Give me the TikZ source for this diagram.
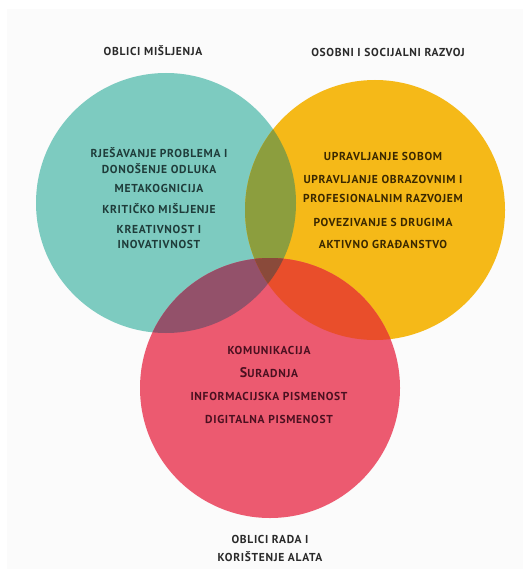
\documentclass[tikz,border=0pt]{standalone}
\usepackage{fontspec}
\setmainfont{PT Sans}[LetterSpace=6]
\definecolor{cteal}{HTML}{7DCBC0}
\definecolor{cyellow}{HTML}{F5B918}
\definecolor{cred}{HTML}{EC5A70}
\definecolor{cty}{HTML}{8C9E3E}
\definecolor{ctr}{HTML}{93516A}
\definecolor{cyr}{HTML}{E94E2B}
\definecolor{ctyr}{HTML}{8A4A3A}
\definecolor{bgc}{HTML}{FBFBFB}
\definecolor{ttl}{HTML}{2A2A2A}
\definecolor{tteal}{HTML}{1F3C3A}
\definecolor{tyel}{HTML}{3A2800}
\definecolor{tred}{HTML}{4A1020}
\tikzset{
  ring/.style={circle, minimum size=260pt, inner sep=0pt, draw=none},
  lbl/.style={anchor=base, inner sep=0pt, font=\bfseries\fontsize{11.5}{13}\selectfont},
  ttlbl/.style={lbl, text=ttl},
  tlbl/.style={lbl, text=tteal},
  ylbl/.style={lbl, text=tyel},
  rlbl/.style={lbl, text=tred}
}
\begin{document}
\begin{tikzpicture}[x=1pt,y=-1pt]
\useasboundingbox (0,0) rectangle (523,569);
\fill[white] (0,0) rectangle (523,569);
\fill[bgc] (7,9) rectangle (523,569);
% circles
\node[ring, fill=cteal] (teal) at (166,203) {};
\node[ring, fill=cyellow] (yellow) at (375,210) {};
\node[ring, fill=cred] (red) at (270,388) {};
% overlaps
\begin{scope}
  \clip (166,203) circle (130);
  \fill[cty] (375,210) circle (130);
  \fill[ctr] (270,388) circle (130);
\end{scope}
\begin{scope}
  \clip (375,210) circle (130);
  \fill[cyr] (270,388) circle (130);
\end{scope}
\begin{scope}
  \clip (166,203) circle (130);
  \clip (375,210) circle (130);
  \fill[ctyr] (270,388) circle (130);
\end{scope}
% titles
\node[ttlbl] (t1) at (153,56) {OBLICI MIŠLJENJA};
\node[ttlbl] (t2) at (388,57) {OSOBNI I SOCIJALNI RAZVOJ};
\node[ttlbl] (t3a) at (270,543) {OBLICI RADA I};
\node[ttlbl] (t3b) at (270,561) {KORIŠTENJE ALATA};
% teal
\node[tlbl] (a1) at (159,158) {RJEŠAVANJE PROBLEMA I};
\node[tlbl] (a2) at (159,174) {DONOŠENJE ODLUKA};
\node[tlbl] (a3) at (159,193) {METAKOGNICIJA};
\node[tlbl] (a4) at (159,213) {KRITIČKO MIŠLJENJE};
\node[tlbl] (a5) at (159,233) {KREATIVNOST I};
\node[tlbl] (a6) at (159,248) {INOVATIVNOST};
% yellow
\node[ylbl] (b1) at (383,161) {UPRAVLJANJE SOBOM};
\node[ylbl] (b2) at (383,184) {UPRAVLJANJE OBRAZOVNIM I};
\node[ylbl] (b3) at (383,203) {PROFESIONALNIM RAZVOJEM};
\node[ylbl] (b4) at (383,226) {POVEZIVANJE S DRUGIMA};
\node[ylbl] (b5) at (383,248) {AKTIVNO GRAĐANSTVO};
% red
\node[rlbl] (c1) at (269,354) {KOMUNIKACIJA};
\node[rlbl] (c2) at (269,377) {\fontsize{14}{15}\selectfont S\fontsize{11.5}{13}\selectfont URADNJA};
\node[rlbl] (c3) at (269,400) {INFORMACIJSKA PISMENOST};
\node[rlbl] (c4) at (269,423) {DIGITALNA PISMENOST};
\end{tikzpicture}
\end{document}
